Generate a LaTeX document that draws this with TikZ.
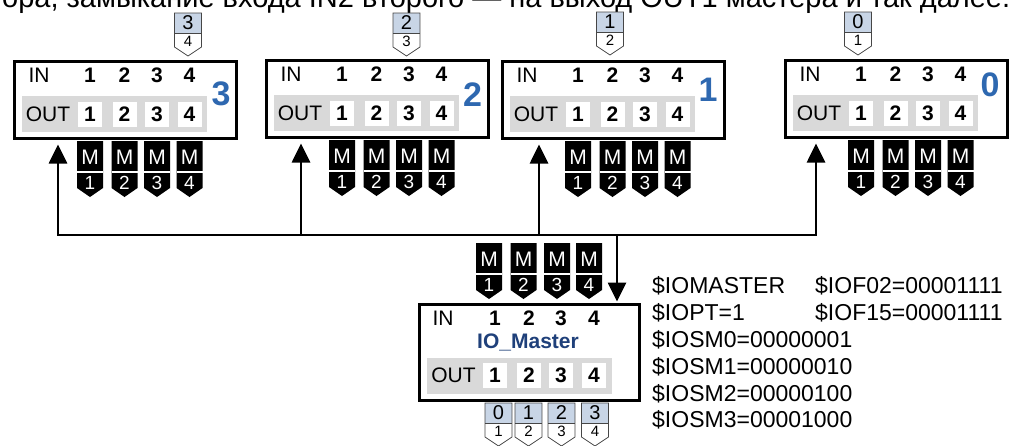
\documentclass[tikz,border=0pt]{standalone}
\usepackage{fontspec}
\setmainfont{Liberation Sans}
\usetikzlibrary{arrows.meta}
\definecolor{stripgray}{RGB}{217,217,217}
\definecolor{tagblue}{RGB}{200,213,230}
\definecolor{numblue}{RGB}{46,104,176}
\definecolor{mastblue}{RGB}{31,64,122}
\definecolor{tagedge}{RGB}{70,70,70}

\tikzset{
 frame/.style={draw, line width=3pt, fill=white, minimum width=222pt, minimum height=77pt, inner sep=0pt, anchor=north west},
 strip/.style={fill=stripgray, minimum width=185pt, minimum height=36pt, inner sep=0pt, anchor=north west},
 cell/.style={fill=white, minimum width=24pt, minimum height=25pt, inner sep=0pt, font=\fontsize{21}{21}\selectfont\bfseries},
 digit/.style={inner sep=0pt, font=\fontsize{21}{21}\selectfont\bfseries},
 lbl/.style={inner sep=0pt, font=\fontsize{21}{21}\selectfont},
 big/.style={inner sep=0pt, text=numblue, font=\fontsize{34}{34}\selectfont\bfseries},
 mtxt/.style={inner sep=0pt, text=white, font=\fontsize{21}{21}\selectfont},
 mnum/.style={inner sep=0pt, text=white, font=\fontsize{19}{19}\selectfont},
 utxt/.style={inner sep=0pt, font=\fontsize{20}{20}\selectfont},
 ltxt/.style={inner sep=0pt, font=\fontsize{15}{15}\selectfont},
 tagline/.style={draw=tagedge, line width=0.8pt},
 bus/.style={line width=2.7pt},
 arr/.style={bus, -{Triangle[width=18pt,length=19pt]}},
 code/.style={inner sep=0pt, anchor=base west, font=\fontsize{23}{23}\selectfont},
}

% black M tag: name, x centre, top, number
\newcommand{\mtag}[4]{%
  \fill[black] (#2-13,#3) -- (#2+13,#3) -- (#2+13,#3+47) -- (#2,#3+56) -- (#2-13,#3+47) -- cycle;
  \draw[white,line width=1.2pt] (#2-13,#3+31) -- (#2+13,#3+31);
  \node[mtxt] (#1-m) at (#2,#3+16) {M};
  \node[mnum] (#1-n) at (#2,#3+42) {#4};
}
% light index tag: name, x centre, top, upper, lower
\newcommand{\itag}[5]{%
  \fill[tagblue] (#2-13.5,#3) rectangle (#2+13.5,#3+20);
  \fill[white] (#2-13.5,#3+20) -- (#2+13.5,#3+20) -- (#2+13.5,#3+34) -- (#2,#3+43) -- (#2-13.5,#3+34) -- cycle;
  \draw[tagline] (#2-13.5,#3) -- (#2+13.5,#3) -- (#2+13.5,#3+34) -- (#2,#3+43) -- (#2-13.5,#3+34) -- cycle;
  \draw[tagline] (#2-13.5,#3+20) -- (#2+13.5,#3+20);
  \node[utxt] (#1-u) at (#2,#3+10) {#4};
  \node[ltxt] (#1-l) at (#2,#3+28.5) {#5};
}
% slave box: name, L, T, number, big x, big y
\newcommand{\slavebox}[6]{%
  \node[frame] (#1) at (#2+1.5,#3+1.5) {};
  \node[strip] (#1-strip) at (#2+11,#3+38) {};
  \node[lbl] (#1-inl) at (#2+28,#3+17) {IN};
  \node[lbl] (#1-outl) at (#2+37,#3+56.5) {OUT};
  \foreach \i/\dx in {1/79,2/113.5,3/146,4/178.5}{
    \node[digit] (#1-in\i) at (#2+\dx,#3+17) {\i};
    \node[cell] (#1-out\i) at (#2+\dx,#3+56.5) {\i};
    \mtag{#1-m\i}{#2+\dx}{#3+83}{\i}
  }
  \node[big] (#1-num) at (#5,#6) {#4};
}

\begin{document}
\begin{tikzpicture}[x=1pt,y=-1pt]
\useasboundingbox (0,0) rectangle (1015,445);

\node[inner sep=0pt, anchor=base west, font=\fontsize{29}{31}\selectfont] (head) at (2,7) {ора, замыкание входа IN2 второго — на выход OUT1 мастера и так далее.};

\slavebox{s3}{11}{58}{3}{221}{94}
\slavebox{s2}{263}{57}{2}{472.5}{95}
\slavebox{s1}{499}{58}{1}{708}{90}
\slavebox{s0}{782}{57}{0}{990}{85}

\itag{t3}{188}{13}{3}{4}
\itag{t2}{406.5}{13}{2}{3}
\itag{t1}{610}{12}{1}{2}
\itag{t0}{858}{12}{0}{1}

% master
\node[frame, minimum width=220pt, minimum height=96pt] (m) at (417.5,302.5) {};
\node[strip] (m-strip) at (427,358) {};
\node[lbl] (m-inl) at (443,318) {IN};
\node[lbl] (m-outl) at (453.5,375.5) {OUT};
\foreach \i/\cx in {1/495,2/529,3/561,4/594}{
  \node[digit] (m-in\i) at (\cx,318) {\i};
  \node[cell] (m-out\i) at (\cx,375.5) {\i};
}
\node[inner sep=0pt, anchor=base, text=mastblue, font=\fontsize{21}{21}\selectfont\bfseries] (m-name) at (528,348) {IO\_Master};
\foreach \i/\cx in {1/489,2/523.5,3/557,4/589}{
  \mtag{mm\i}{\cx}{243}{\i}
}
\itag{b0}{498.5}{403}{0}{1}
\itag{b1}{528.5}{403}{1}{2}
\itag{b2}{561.5}{403}{2}{3}
\itag{b3}{595}{403}{3}{4}

% bus
\coordinate (j) at (617,235);
\coordinate (a3) at (58,235);
\coordinate (a2) at (301,235);
\coordinate (a1) at (539,235);
\coordinate (a0) at (816,235);
\draw[arr, shorten >=5pt] (j) -| (a3 |- s3.south);
\draw[arr, shorten >=5pt] (j) -| (a2 |- s2.south);
\draw[arr, shorten >=5pt] (j) -| (a1 |- s1.south);
\draw[arr, shorten >=5pt] (j) -| (a0 |- s0.south);
\draw[arr, shorten >=1pt] (j) -- (j |- m.north);

% settings text
\node[code] (c1) at (652,293) {\$IOMASTER};
\node[code] (c1b) at (815,293) {\$IOF02=00001111};
\node[code] (c2) at (652,320) {\$IOPT=1};
\node[code] (c2b) at (815,320) {\$IOF15=00001111};
\node[code] (c3) at (652,347) {\$IOSM0=00000001};
\node[code] (c4) at (652,374) {\$IOSM1=00000010};
\node[code] (c5) at (652,401) {\$IOSM2=00000100};
\node[code] (c6) at (652,427) {\$IOSM3=00001000};
\end{tikzpicture}
\end{document}
